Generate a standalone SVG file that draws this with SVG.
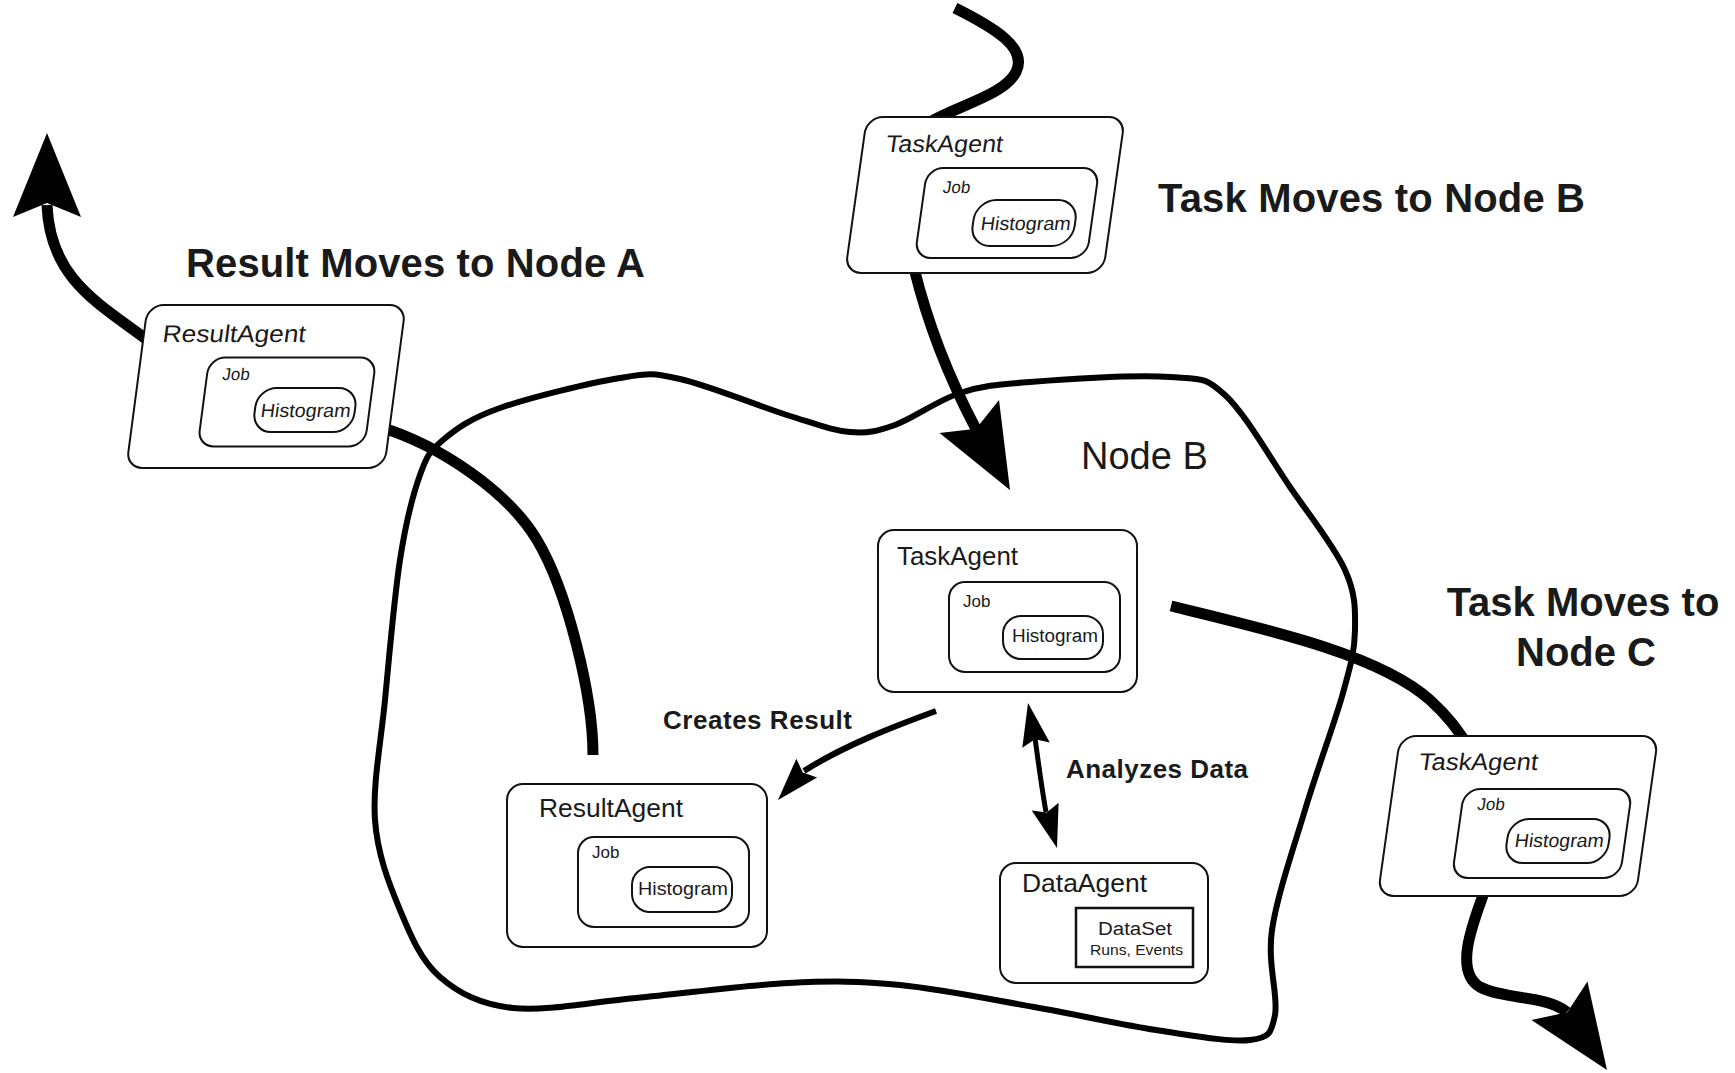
<svg xmlns="http://www.w3.org/2000/svg" xmlns:xlink="http://www.w3.org/1999/xlink" width="1735" height="1073" viewBox="0 0 1735 1073">
  <defs>
    <style>
      .box { fill: #fff; stroke: #111; stroke-width: 2; }
      .sq { fill: #fff; stroke: #111; stroke-width: 2.5; }
      .txt { font-family: "Liberation Sans", Arial, Helvetica, sans-serif; fill: #1a1a1a; }
      .agent { font-size: 25px; }
      .job { font-size: 17px; }
      .hist { font-size: 18px; }
      .head { font-size: 40px; font-weight: bold; }
      .note { font-size: 26px; font-weight: bold; }
      .wire { fill: none; stroke: #000; stroke-linecap: butt; stroke-linejoin: round; }
      .thick { stroke-width: 11; }
      .mid { stroke-width: 6; }
      .thin { stroke-width: 5; }
      .boundary { fill: none; stroke: #000; stroke-width: 6; stroke-linejoin: round; }
    </style>
    <path id="head-lg" d="M0,0 L-84,-34 L-70,0 L-84,34 Z" fill="#000"/>
    <path id="head-sm" d="M0,0 L-43,-14 L-37,0 L-43,14 Z" fill="#000"/>
  </defs>

  <rect x="0" y="0" width="1735" height="1073" fill="#fff"/>

  <!-- Node B: the host region -->
  <g id="node-b">
    <path class="boundary" d="M443,440 C456.3,428.8 470.5,418.3 500,408 C529.5,397.7 590,382.8 620,378 C650,373.2 651.7,372.7 680,379 C708.3,385.3 761.7,407.2 790,416 C818.3,424.8 832.5,430.5 850,432 C867.5,433.5 876.7,431.5 895,425 C913.3,418.5 937.5,400.2 960,393 C982.5,385.8 995,384.7 1030,382 C1065,379.3 1137.5,374.8 1170,377 C1202.5,379.2 1205,376.7 1225,395 C1245,413.3 1270,457.8 1290,487 C1310,516.2 1334.2,546.2 1345,570 C1355.8,593.8 1355.3,609.5 1355,630 C1354.7,650.5 1351.3,663 1343,693 C1334.7,723 1316.8,770.5 1305,810 C1293.2,849.5 1277,895.8 1272,930 C1267,964.2 1278.7,996.7 1275,1015 C1271.3,1033.3 1269.8,1037.5 1250,1040 C1230.2,1042.5 1192,1035.5 1156,1030 C1120,1024.5 1076.7,1014.5 1034,1007 C991.3,999.5 940.8,989 900,985 C859.2,981 833,980.8 789,983 C745,985.2 682,993.8 636,998 C590,1002.2 545.7,1011.5 513,1008 C480.3,1004.5 458.8,993.3 440,977 C421.2,960.7 410.8,936.2 400,910 C389.2,883.8 377.5,855 375,820 C372.5,785 380.8,743.3 385,700 C389.2,656.7 394.2,597.5 400,560 C405.8,522.5 412.8,495 420,475 C427.2,455 429.7,451.2 443,440 Z"/>
    <text class="txt" x="1081" y="469" font-size="38">Node B</text>
  </g>

  <!-- Movement and interaction connectors -->
  <g id="connectors">
    <!-- result agent leaves for Node A -->
    <path class="wire thick" d="M150,342 C100,304 50,280 47,205"/>
    <use xlink:href="#head-lg" transform="translate(47,133) rotate(-90)"/>
    <path class="wire thick" d="M380,427 C442,446 509,493 537,540 C567,590 593,695 593,755"/>

    <!-- task agent arrives at Node B -->
    <path class="wire thick" d="M955,8 C995,28 1028,48 1016,72 C1004,96 955,106 925,125"/>
    <path class="wire thick" d="M914,268 C928,325 950,380 976,429"/>
    <use xlink:href="#head-lg" transform="translate(1010,490) rotate(61)"/>

    <!-- task agent leaves for Node C -->
    <path class="wire thick" d="M1171,606 C1270,630 1380,655 1430,700 C1450,718 1462,735 1470,750"/>
    <path class="wire thick" d="M1485,890 C1470,930 1455,972 1480,987 C1505,1000 1545,995 1567,1012"/>
    <use xlink:href="#head-lg" transform="translate(1607,1070) rotate(55.5)"/>

    <!-- creates result -->
    <path class="wire mid" d="M936,711 C895,726 845,745 804,771"/>
    <use xlink:href="#head-sm" transform="translate(778,800) rotate(132)"/>

    <!-- analyzes data (both ways) -->
    <path class="wire thin" d="M1035,738 C1038,760 1042,790 1046,812"/>
    <use xlink:href="#head-sm" transform="translate(1028,703) rotate(-100.8)"/>
    <use xlink:href="#head-sm" transform="translate(1057,848) rotate(74)"/>
  </g>

  <!-- Captions -->
  <g id="captions" class="txt">
    <text class="head" x="186" y="277" textLength="459" lengthAdjust="spacing">Result Moves to Node A</text>
    <text class="head" x="1158" y="212" textLength="427" lengthAdjust="spacing">Task Moves to Node B</text>
    <text class="head" x="1583" y="616" text-anchor="middle">Task Moves to</text>
    <text class="head" x="1586" y="666" text-anchor="middle">Node C</text>
    <text class="note" x="663" y="729" textLength="189" lengthAdjust="spacing">Creates Result</text>
    <text class="note" x="1066" y="778" textLength="182" lengthAdjust="spacing">Analyzes Data</text>
  </g>

  <!-- Task agent in transit to Node B -->
  <g id="task-agent-incoming" transform="translate(985,195) skewX(-8)">
    <rect class="box" x="-129" y="-78" width="258" height="156" rx="16"/>
    <text class="txt" x="-106" y="-43" font-size="24" textLength="117" lengthAdjust="spacingAndGlyphs">TaskAgent</text>
    <rect class="box" x="-61.5" y="-27" width="172" height="90" rx="16"/>
    <text class="txt job" x="-43" y="-2">Job</text>
    <rect class="box" x="-8" y="5" width="102" height="46" rx="20"/>
    <text class="txt" x="0" y="35" font-size="19" textLength="90" lengthAdjust="spacingAndGlyphs">Histogram</text>
  </g>

  <!-- Result agent in transit to Node A -->
  <g id="result-agent-outgoing" transform="translate(266,386.5) skewX(-7.5)">
    <rect class="box" x="-129" y="-81.5" width="258" height="163" rx="16"/>
    <text class="txt" x="-110" y="-44.5" font-size="24" textLength="143" lengthAdjust="spacingAndGlyphs">ResultAgent</text>
    <rect class="box" x="-60.5" y="-29" width="167" height="89" rx="16"/>
    <text class="txt job" x="-45" y="-6.5">Job</text>
    <rect class="box" x="-8" y="1.5" width="100" height="44" rx="19"/>
    <text class="txt" x="-2" y="30.5" font-size="19" textLength="90" lengthAdjust="spacingAndGlyphs">Histogram</text>
  </g>

  <!-- Task agent in transit to Node C -->
  <g id="task-agent-outgoing" transform="translate(1518,816) skewX(-8)">
    <rect class="box" x="-129" y="-80" width="258" height="160" rx="16"/>
    <text class="txt" x="-106.5" y="-46" font-size="24" textLength="119" lengthAdjust="spacingAndGlyphs">TaskAgent</text>
    <rect class="box" x="-57.5" y="-27" width="168" height="89" rx="16"/>
    <text class="txt job" x="-42" y="-6">Job</text>
    <rect class="box" x="-7.5" y="3" width="102" height="44" rx="19"/>
    <text class="txt" x="0.4" y="31" font-size="19" textLength="89" lengthAdjust="spacingAndGlyphs">Histogram</text>
  </g>

  <!-- Task agent resident on Node B -->
  <g id="task-agent">
    <rect class="box" x="878" y="530" width="259" height="162" rx="16"/>
    <text class="txt agent" x="897" y="565" textLength="121" lengthAdjust="spacingAndGlyphs">TaskAgent</text>
    <rect class="box" x="949" y="582" width="171" height="90" rx="16"/>
    <text class="txt job" x="963" y="607">Job</text>
    <rect class="box" x="1003" y="616" width="100" height="43" rx="18"/>
    <text class="txt hist" x="1012" y="642" textLength="86" lengthAdjust="spacingAndGlyphs">Histogram</text>
  </g>

  <!-- Result agent created on Node B -->
  <g id="result-agent">
    <rect class="box" x="507" y="784" width="260" height="163" rx="16"/>
    <text class="txt agent" x="539" y="817" textLength="144" lengthAdjust="spacingAndGlyphs">ResultAgent</text>
    <rect class="box" x="578" y="837" width="171" height="90" rx="16"/>
    <text class="txt job" x="592" y="858">Job</text>
    <rect class="box" x="632" y="867" width="100" height="45" rx="18"/>
    <text class="txt hist" x="638" y="895" textLength="90" lengthAdjust="spacingAndGlyphs">Histogram</text>
  </g>

  <!-- Data agent on Node B -->
  <g id="data-agent">
    <rect class="box" x="1000" y="863" width="208" height="120" rx="16"/>
    <text class="txt agent" x="1022" y="892" textLength="125" lengthAdjust="spacingAndGlyphs">DataAgent</text>
    <rect class="sq" x="1076" y="908" width="117" height="59"/>
    <text class="txt" x="1098" y="935" font-size="18" textLength="74" lengthAdjust="spacingAndGlyphs">DataSet</text>
    <text class="txt" x="1090" y="955" font-size="14" textLength="93" lengthAdjust="spacingAndGlyphs">Runs, Events</text>
  </g>
</svg>
